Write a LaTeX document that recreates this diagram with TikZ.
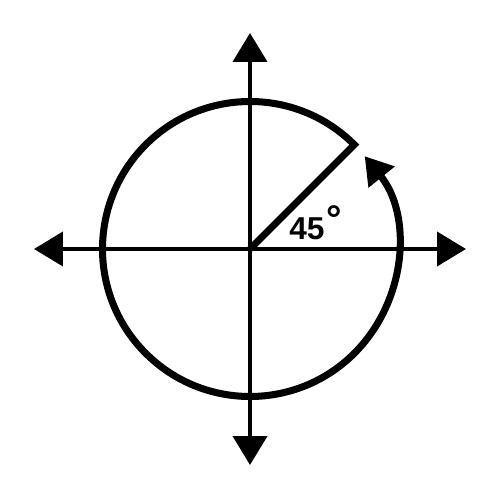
\documentclass[tikz,border=0pt]{standalone}
\usepackage{fontspec}
\setmainfont{Liberation Sans}
\usepackage{tikz}
\usetikzlibrary{arrows.meta}

\begin{document}
\begin{tikzpicture}[
	axis/.style={line width=2.3pt,-{Triangle[length=0.58cm,width=0.68cm]}},
	rim/.style={line width=4pt,-{Triangle[length=0.54cm,width=0.64cm]}}]
		\useasboundingbox (-5,-5.02) rectangle (5,4.98);
		\coordinate (O) at (0,0);
		\coordinate (E) at (4.32,0);
		\coordinate (W) at (-4.32,0);
		\coordinate (N) at (0,4.32);
		\coordinate (S) at (0,-4.32);
		\coordinate (P) at (45:2.95);
		%
		\path[axis]
		% horizontal arrows
		(O) edge (E)
		(O) edge (W)
		% vertical arrows
		(O) edge (N)
		(O) edge (S);
		% radius and turning arc
		\draw[rim] (O) -- (P) arc[start angle=45, end angle=399, radius=2.95];
		\node[font=\bfseries\fontsize{18}{18}\selectfont, anchor=base west, inner sep=0] (ang) at (0.78,0.18) {45\kern1pt\raisebox{4pt}{\fontsize{22}{22}\selectfont °}};
\end{tikzpicture}
\end{document}
